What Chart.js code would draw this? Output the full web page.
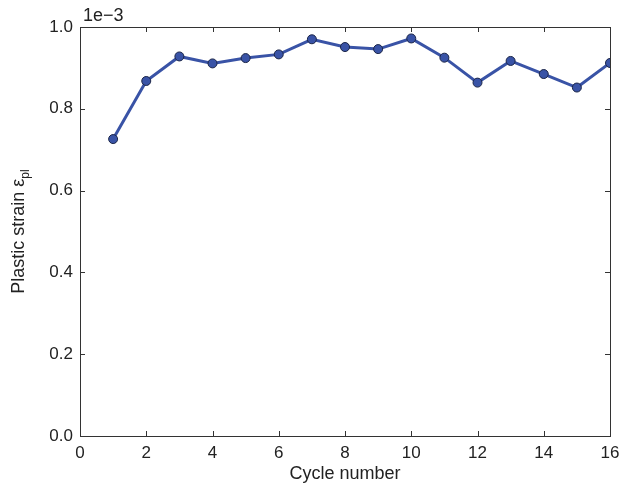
<!DOCTYPE html>
<html>
<head>
<meta charset="utf-8">
<script src="https://cdn.jsdelivr.net/npm/chart.js@4"></script>
<style>
  html, body { margin: 0; padding: 0; background: #fff; }
  #wrap { width: 622px; height: 485px; }
</style>
</head>
<body>
<div id="wrap"><canvas id="c" width="622" height="485"></canvas></div>
<script>
// cycle number vs plastic strain (values in units of 1e-3)
const cycles = [1, 2, 3, 4, 5, 6, 7, 8, 9, 10, 11, 12, 13, 14, 15, 16];
const strain = [0.726, 0.868, 0.928, 0.911, 0.924, 0.933, 0.970, 0.951, 0.946, 0.972, 0.925, 0.864, 0.917, 0.885, 0.852, 0.912];
const xTicks = [0, 2, 4, 6, 8, 10, 12, 14, 16];
const yTicks = [0.0, 0.2, 0.4, 0.6, 0.8, 1.0];
const yExponent = "1e\u22123";

const FONT = "'Liberation Sans', Arial, Helvetica, sans-serif";
const TEXT = "#222";
const LINE = "#3953a6";
const AXIS = "#333";

// frame, inward ticks, exponent and y label with subscript
const framePlugin = {
  id: "frame",
  afterDraw(chart) {
    const { ctx, chartArea: a, scales } = chart;
    ctx.save();
    ctx.strokeStyle = AXIS;
    ctx.lineWidth = 1;
    ctx.strokeRect(a.left + 0.5, a.top + 0.5, a.right - a.left, a.bottom - a.top);
    const tl = 5;
    ctx.beginPath();
    xTicks.forEach(v => {
      const px = Math.round(scales.x.getPixelForValue(v)) + 0.5;
      ctx.moveTo(px, a.bottom); ctx.lineTo(px, a.bottom - tl);
      ctx.moveTo(px, a.top); ctx.lineTo(px, a.top + tl);
    });
    yTicks.forEach(v => {
      const py = Math.round(scales.y.getPixelForValue(v)) + 0.5;
      ctx.moveTo(a.left, py); ctx.lineTo(a.left + tl, py);
      ctx.moveTo(a.right, py); ctx.lineTo(a.right - tl, py);
    });
    ctx.stroke();

    ctx.fillStyle = TEXT;
    ctx.font = "18px " + FONT;
    ctx.textAlign = "left";
    ctx.textBaseline = "alphabetic";
    ctx.fillText(yExponent, a.left + 3, a.top - 6);

    // y axis title
    ctx.translate(24, (a.top + a.bottom) / 2);
    ctx.rotate(-Math.PI / 2);
    const main = "Plastic strain \u03b5";
    const sub = "pl";
    ctx.font = "18px " + FONT;
    const w1 = ctx.measureText(main).width;
    ctx.font = "12px " + FONT;
    const w2 = ctx.measureText(sub).width;
    const x0 = -(w1 + w2) / 2;
    ctx.font = "18px " + FONT;
    ctx.fillText(main, x0, 0);
    ctx.font = "12px " + FONT;
    ctx.fillText(sub, x0 + w1, 5);
    ctx.restore();
  }
};

new Chart(document.getElementById("c"), {
  type: "line",
  data: {
    datasets: [{
      data: cycles.map((c, i) => ({ x: c, y: strain[i] })),
      borderColor: LINE,
      borderWidth: 3,
      backgroundColor: LINE,
      pointBackgroundColor: LINE,
      pointBorderColor: "#1b2547",
      pointBorderWidth: 1,
      pointRadius: 4.5,
      tension: 0,
    }],
  },
  options: {
    responsive: false,
    animation: false,
    events: [],
    layout: { padding: { top: 27, right: 12, left: 0, bottom: 0 } },
    plugins: { legend: { display: false }, tooltip: { enabled: false } },
    scales: {
      x: {
        type: "linear", min: 0, max: 16,
        afterBuildTicks: s => { s.ticks = xTicks.map(v => ({ value: v })); },
        afterFit: s => { s.height = 49; s.paddingLeft = 0; s.paddingRight = 0; },
        grid: { display: false, drawTicks: false },
        border: { display: false },
        ticks: { color: TEXT, font: { family: FONT, size: 17 }, padding: 7, maxRotation: 0 },
        title: { display: true, text: "Cycle number", color: TEXT, font: { family: FONT, size: 18 }, padding: { top: 0, bottom: 0 } },
      },
      y: {
        type: "linear", min: 0, max: 1.0,
        afterBuildTicks: s => { s.ticks = yTicks.map(v => ({ value: v })); },
        afterFit: s => { s.width = 80; s.paddingTop = 0; s.paddingBottom = 0; },
        grid: { display: false, drawTicks: false },
        border: { display: false },
        ticks: { color: TEXT, font: { family: FONT, size: 17 }, padding: 7, callback: v => v.toFixed(1) },
      },
    },
  },
  plugins: [framePlugin],
});
</script>
</body>
</html>
